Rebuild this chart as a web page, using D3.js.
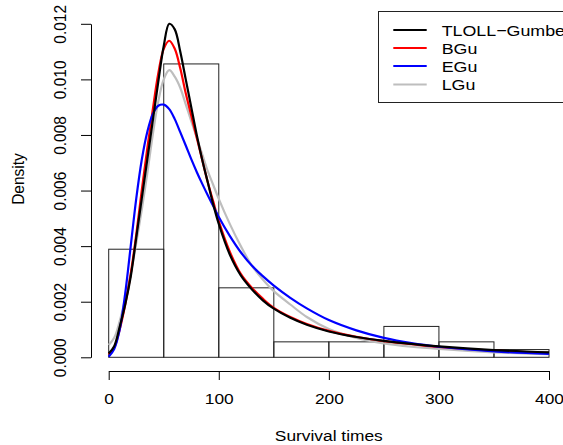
<!DOCTYPE html>
<html>
<head>
<meta charset="utf-8">
<script src="https://cdn.jsdelivr.net/npm/d3@7"></script>
<style>
  html, body { margin: 0; padding: 0; background: #fff; }
  svg { display: block; }
  text { font-family: "Liberation Sans", Arial, Helvetica, sans-serif; }
</style>
</head>
<body>
<svg id="chart" width="563" height="445"></svg>
<script>
// ---- data ----
const binEdges = [0, 50, 100, 150, 200, 250, 300, 350, 400];
const binDensity = [0.003889, 0.010556, 0.0025, 0.000556, 0.000556, 0.001111, 0.000556, 0.000278];

const times = [0, 5, 10, 15, 20, 25, 30, 35, 40, 45, 50, 55, 60, 65, 70, 75, 80, 85, 90, 95, 100,
               110, 120, 130, 140, 150, 165, 180, 200, 225, 250, 275, 300, 350, 400];
const tlollGumbel = [0.00014, 0.0004, 0.0011, 0.0019, 0.0029, 0.0043, 0.0057, 0.0071, 0.0085, 0.0099, 0.0112, 0.0120, 0.0118, 0.0110, 0.0100, 0.0090, 0.0080, 0.0071, 0.0063, 0.0055, 0.0048,
                     0.0037, 0.00295, 0.00245, 0.00205, 0.00175, 0.00142, 0.00117, 0.00093, 0.00073, 0.00059, 0.00048, 0.00039, 0.00026, 0.00018];
const bGu = [0.0001, 0.00035, 0.001, 0.0019, 0.003, 0.0044, 0.0060, 0.0075, 0.0089, 0.0102, 0.0111, 0.01139, 0.0111, 0.0104, 0.0095, 0.0087, 0.0079, 0.0071, 0.0063, 0.0056, 0.0049,
             0.0038, 0.0030, 0.0025, 0.00211, 0.00178, 0.00145, 0.0012, 0.00095, 0.00074, 0.00058, 0.00047, 0.00037, 0.00024, 0.00016];
const eGu = [0.00002, 0.0003, 0.0010, 0.0023, 0.0040, 0.0057, 0.0071, 0.0081, 0.00875, 0.00905, 0.00909, 0.00893, 0.00857, 0.0081, 0.00762, 0.00713, 0.00667, 0.00624, 0.00583, 0.00544, 0.00505,
             0.00437, 0.00378, 0.0033, 0.00292, 0.00258, 0.00214, 0.00176, 0.00134, 0.00097, 0.0007, 0.00051, 0.00038, 0.00021, 0.00012];
const lGu = [0.00044, 0.0007, 0.0013, 0.0021, 0.003, 0.0041, 0.0053, 0.0066, 0.0080, 0.0092, 0.0100, 0.01033, 0.0101, 0.0097, 0.0091, 0.0085, 0.0079, 0.0073, 0.0067, 0.0062, 0.0057,
             0.0048, 0.0040, 0.0033, 0.0028, 0.00238, 0.0019, 0.00145, 0.00102, 0.0007, 0.0005, 0.00038, 0.0003, 0.00018, 0.00011];

const xTicks = [0, 100, 200, 300, 400];
const yTicks = [0, 0.002, 0.004, 0.006, 0.008, 0.010, 0.012];
const legendLabels = ["TLOLL\u2212Gumbel", "BGu", "EGu", "LGu"];
const seriesColors = ["#000000", "#FF0000", "#0000FF", "#BEBEBE"];
const xTitle = "Survival times";
const yTitle = "Density";

// ---- drawing ----
const svg = d3.select("#chart");
const FS = 15.5, SX = 1.12, SXL = 1.15;

const x = d3.scaleLinear().domain([0, 400]).range([108.7, 549]);
const y = d3.scaleLinear().domain([0, 0.012]).range([357.3, 23.8]);

// histogram
svg.append("g").selectAll("rect")
  .data(binDensity)
  .join("rect")
  .attr("x", (d, i) => x(binEdges[i]))
  .attr("y", d => y(d))
  .attr("width", (d, i) => x(binEdges[i + 1]) - x(binEdges[i]))
  .attr("height", d => y(0) - y(d))
  .attr("fill", "none")
  .attr("stroke", "#222")
  .attr("stroke-width", 1);

// curves
const line = d3.line()
  .x(d => x(d[0]))
  .y(d => y(d[1]))
  .curve(d3.curveCatmullRom.alpha(0.5));

const series = [
  { vals: lGu, color: seriesColors[3] },
  { vals: bGu, color: seriesColors[1] },
  { vals: eGu, color: seriesColors[2] },
  { vals: tlollGumbel, color: seriesColors[0] }
];
series.forEach(s => {
  svg.append("path")
    .datum(times.map((t, i) => [t, s.vals[i]]))
    .attr("d", line)
    .attr("fill", "none")
    .attr("stroke", s.color)
    .attr("stroke-width", 2.2)
    .attr("stroke-linejoin", "round");
});

// x axis
const xAxis = svg.append("g")
  .attr("transform", "translate(0,371)")
  .call(d3.axisBottom(x).tickValues(xTicks).tickSize(9).tickSizeOuter(0).tickFormat(d3.format("d")));
xAxis.select(".domain").attr("stroke", "#000");
xAxis.selectAll(".tick line").attr("stroke", "#000");
xAxis.selectAll(".tick text")
  .attr("y", null).attr("dy", null)
  .attr("transform", `translate(0,33) scale(${SX},1)`)
  .attr("font-size", FS)
  .attr("font-family", "Liberation Sans, Arial, sans-serif")
  .attr("fill", "#000");

// y axis
const yAxis = svg.append("g")
  .attr("transform", "translate(91,0)")
  .call(d3.axisLeft(y).tickValues(yTicks).tickSize(10).tickSizeOuter(0).tickFormat(d3.format(".3f")));
yAxis.select(".domain").attr("stroke", "#000");
yAxis.selectAll(".tick line").attr("stroke", "#000");
yAxis.selectAll(".tick text")
  .attr("x", null).attr("dy", null)
  .attr("text-anchor", "middle")
  .attr("transform", `translate(-25,0) scale(${SX},1) rotate(-90)`)
  .attr("font-size", FS)
  .attr("font-family", "Liberation Sans, Arial, sans-serif")
  .attr("fill", "#000");

// titles
svg.append("text")
  .attr("transform", `translate(328.8,440.7) scale(${SX},1)`)
  .attr("text-anchor", "middle")
  .attr("font-size", FS)
  .text(xTitle);
svg.append("text")
  .attr("transform", `translate(24,179) scale(${SX},1) rotate(-90)`)
  .attr("text-anchor", "middle")
  .attr("font-size", FS)
  .text(yTitle);

// legend
const lg = svg.append("g");
lg.append("rect")
  .attr("x", 378.5).attr("y", 11.5)
  .attr("width", 220).attr("height", 91)
  .attr("fill", "#fff").attr("stroke", "#222").attr("stroke-width", 1);
const rowY = [30, 48, 66, 84.5];
legendLabels.forEach((lab, i) => {
  lg.append("line")
    .attr("x1", 393.3).attr("x2", 426.7)
    .attr("y1", rowY[i]).attr("y2", rowY[i])
    .attr("stroke", seriesColors[i]).attr("stroke-width", 2);
  lg.append("text")
    .attr("transform", `translate(441.7,${rowY[i] + 5.6}) scale(${SXL},1)`)
    .attr("font-size", FS)
    .text(lab);
});
</script>
</body>
</html>
